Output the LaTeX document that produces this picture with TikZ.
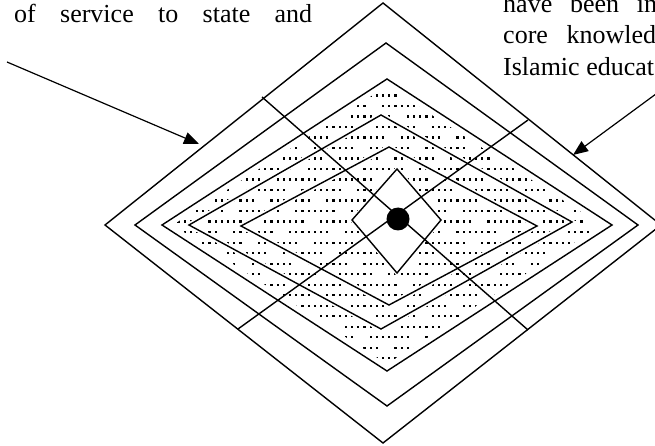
\documentclass[tikz,border=0pt]{standalone}
\usepackage{fontspec}
\setmainfont{Liberation Serif}
\usetikzlibrary{arrows.meta}

\tikzset{
  ring/.style={line width=1.4pt},
  halo/.style={white, line width=5pt},
  note/.style={anchor=base west, inner sep=0pt, font=\fontsize{26}{30}\selectfont},
}

\begin{document}
\begin{tikzpicture}[x=1pt, y=-1pt, >={Triangle[length=15pt,width=12pt]}]

    \useasboundingbox (0,0) rectangle (655,446);

    % Dotted core (inside the third ring)
    \begin{scope}
        \clip (387,86) -- (601,225) -- (387,364) -- (173,225) -- cycle;
        \foreach \j in {0,...,27}{
            \foreach \i in {0,...,72}{
                \pgfmathtruncatemacro{\keep}{mod(\i+5*\j,9)<7 ? 1 : 0}
                \ifnum\keep=1
                    \fill (165+6.2*\i, 84+10.5*\j) rectangle ++(2.2,2.2);
                \fi
            }
        }
    \end{scope}

    % Clear the dots round the inner rings
    \draw[halo] (381,115) -- (572,222) -- (381,329) -- (189,225) -- cycle;
    \draw[halo] (389,147) -- (537,226) -- (389,305) -- (241,226) -- cycle;
    \filldraw[white, line width=4pt] (397,169) -- (441,220) -- (397,273) -- (352,220) -- cycle;

    % Rings, outer to inner
    \draw[ring] (383,3) -- (661,225) -- (383,443) -- (105,225) -- cycle;
    \draw[ring] (386,43) -- (638,225) -- (387,406) -- (135,225) -- cycle;
    \draw[ring] (387,79) -- (612,225) -- (387,371) -- (162,225) -- cycle;
    \draw[ring] (381,115) -- (572,222) -- (381,329) -- (189,225) -- cycle;
    \draw[ring] (389,147) -- (537,226) -- (389,305) -- (241,226) -- cycle;
    \draw[ring] (397,169) -- (441,220) -- (397,273) -- (352,220) -- cycle;

    % Cross lines through the centre
    \coordinate (nw) at (262,97);
    \coordinate (se) at (528,330);
    \coordinate (sw) at (238,329);
    \coordinate (ne) at (528,120);
    \draw[ring] (nw) -- (se);
    \draw[ring] (sw) -- (ne);

    % Centre point
    \fill (398,219) circle (11.5pt);

    % Text fragments
    \node[note] (svc) at (14,23) {\makebox[298pt][s]{of service to state and}};
    \node[note] (have) at (503,13) {\makebox[154pt][s]{have been in}};
    \node[note] (core) at (503,44) {\makebox[153pt][s]{core knowled}};
    \node[note] (isl) at (503,76) {Islamic educat};

    % Arrows onto the outer ring
    \coordinate (lfrom) at (7,62);
    \coordinate (lto) at (199,144);
    \coordinate (rfrom) at (660,91);
    \coordinate (rto) at (573,155);
    \draw[->, line width=1.2pt] (lfrom) -- (lto);
    \draw[->, line width=1.2pt] (rfrom) -- (rto);

\end{tikzpicture}
\end{document}
